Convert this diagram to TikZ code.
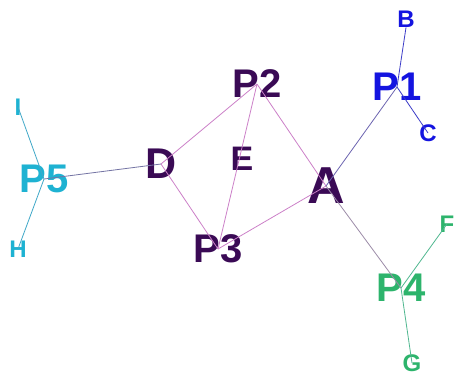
\documentclass[tikz,border=0pt]{standalone}
\usepackage{fontspec}
\setmainfont{Liberation Sans}
\begin{document}
\begin{tikzpicture}[x=1pt,y=-1pt,
  lbl/.style={inner sep=0pt, font=\bfseries},
  big/.style={lbl, font=\fontsize{40}{40}\bfseries\selectfont},
  small/.style={lbl, font=\fontsize{24}{24}\bfseries\selectfont},
  link/.style={line width=0.8pt},
  inner/.style={link, draw=pinkedge}]
\definecolor{dpurple}{HTML}{3A0A55}
\definecolor{vblue}{HTML}{1414E0}
\definecolor{vcyan}{HTML}{1EB2D2}
\definecolor{vgreen}{HTML}{2DB46C}
\definecolor{pinkedge}{HTML}{CC80C8}
\useasboundingbox[fill=white] (0,0) rectangle (454,376);

% vertex labels
\node[big, text=vblue] (P1) at (397,87) {P1};
\node[big, text=dpurple] (P2) at (257,84) {P2};
\node[big, text=dpurple] (P3) at (218,249) {P3};
\node[big, text=vgreen] (P4) at (401,288) {P4};
\node[big, text=vcyan] (P5) at (44,179) {P5};
\node[lbl, text=dpurple, font=\fontsize{52}{52}\bfseries\selectfont] (A) at (326,186) {A};
\node[lbl, text=dpurple, font=\fontsize{43}{43}\bfseries\selectfont] (D) at (161,164) {D};
\node[lbl, text=dpurple, font=\fontsize{34}{34}\bfseries\selectfont] (E) at (242,158.5) {E};
\node[small, text=vblue] (B) at (406,19) {B};
\node[small, text=vblue] (C) at (428,133) {C};
\node[small, text=vgreen] (F) at (447,224) {F};
\node[small, text=vgreen] (G) at (412,363) {G};
\node[small, text=vcyan] (H) at (18,249) {H};
\node[small, text=vcyan] (I) at (18,107) {I};

% edges
\draw[inner] (D.center) -- (P2.center);
\draw[inner] (D.center) -- (P3.center);
\draw[inner] (P2.center) -- (P3.center);
\draw[inner] (P2.center) -- (A.center);
\draw[inner] (P3.center) -- (A.center);
\draw[link, draw={rgb,255:red,108;green,100;blue,176}] (A.center) -- (P1.center);
\draw[link, draw={rgb,255:red,156;green,140;blue,168}] (A.center) -- (P4.center);
\draw[link, draw={rgb,255:red,116;green,116;blue,164}] (D.center) -- (P5.center);
\draw[link, draw={rgb,255:red,60;green,60;blue,200}] (P1.center) -- (B.south);
\draw[link, draw={rgb,255:red,60;green,60;blue,200}] (P1.center) -- (C.center);
\draw[link, draw={rgb,255:red,80;green,184;blue,144}] (P4.center) -- (F.center);
\draw[link, draw={rgb,255:red,80;green,184;blue,144}] (P4.center) -- (G.center);
\draw[link, draw={rgb,255:red,64;green,168;blue,200}] (P5.center) -- (I.center);
\draw[link, draw={rgb,255:red,64;green,168;blue,200}] (P5.center) -- (H.center);
\end{tikzpicture}
\end{document}
